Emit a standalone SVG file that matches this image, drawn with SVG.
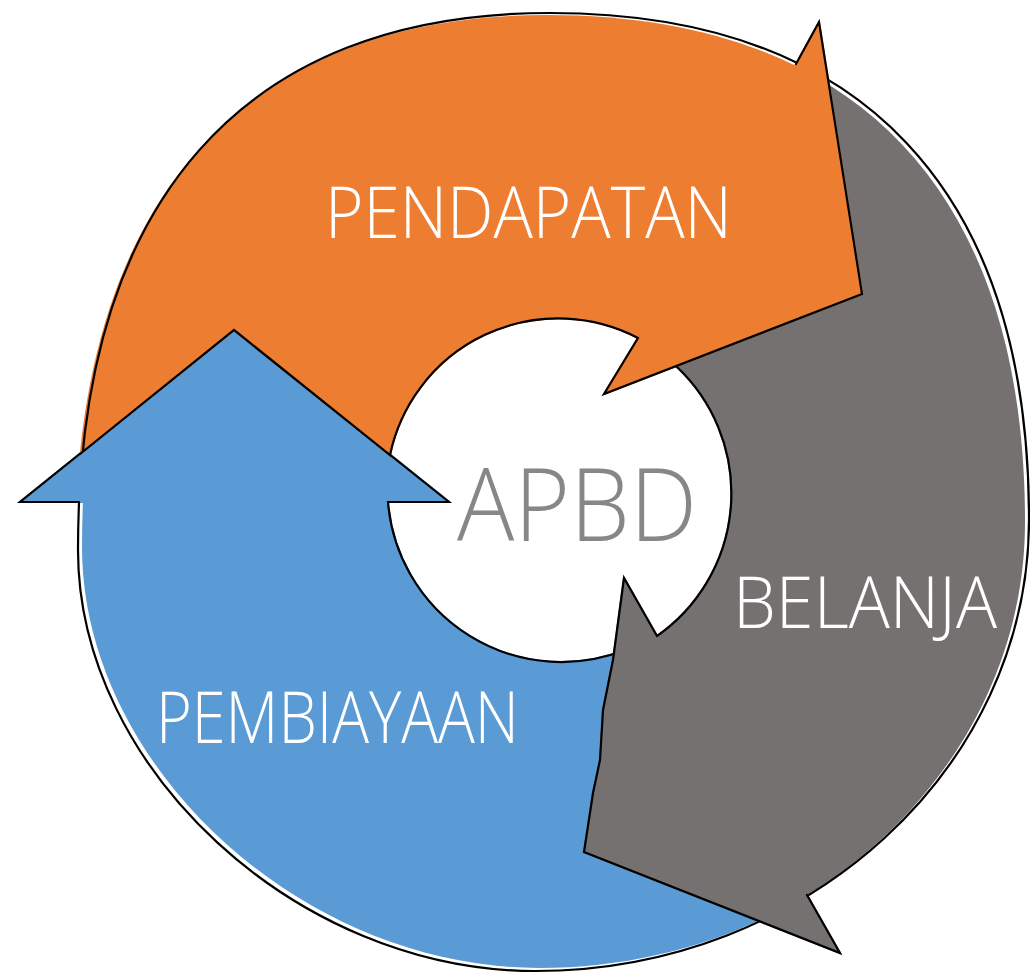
<svg xmlns="http://www.w3.org/2000/svg" width="1030" height="973" viewBox="0 0 1030 973">
<style>
.ol{fill:none;stroke:#000;stroke-width:2.2;stroke-linejoin:miter;stroke-miterlimit:10;stroke-linecap:round}
.blue{fill:#5B9BD5}
.gray{fill:#767171}
.orange{fill:#ED7D31}
.hb{stroke:#5B9BD5;stroke-width:2;stroke-linejoin:round}
.hg{stroke:#767171;stroke-width:2;stroke-linejoin:round}
.ho{stroke:#ED7D31;stroke-width:2;stroke-linejoin:round}
.lbl{font-family:"Open Sans","Liberation Sans",sans-serif;font-weight:300;fill:#ffffff;font-size:71px}
.center{font-family:"Open Sans","Liberation Sans",sans-serif;font-weight:300;fill:#878787;font-size:102px}
</style>
<defs>
<clipPath id="fBlue"><path transform="translate(4 -3)" d="M78,550 C78,201 243,13 550,13 C862,13 1029,190.4 1029,520 C1029,768 807,971 535,971 C297.4,971 78,768.9 78,550 Z"/></clipPath>
<clipPath id="fGray"><path transform="translate(-4 2)" d="M78,550 C78,201 243,13 550,13 C862,13 1029,190.4 1029,520 C1029,768 807,971 535,971 C297.4,971 78,768.9 78,550 Z"/></clipPath>
<clipPath id="fOrange"><path transform="translate(-3 2)" d="M78,550 C78,201 243,13 550,13 C862,13 1029,190.4 1029,520 C1029,768 807,971 535,971 C297.4,971 78,768.9 78,550 Z"/></clipPath>
<clipPath id="wBlue"><path d="M388,502 L-20,502 L-20,1100 L923,1100 L625,650 A174 174 0 0 1 388,502 Z"/></clipPath>
<clipPath id="wGray"><path d="M665,355 L815,90 L815,-40 L1100,-40 L1100,1100 L905,1066 L657,636 A174 174 0 0 0 677,367 Z"/></clipPath>
<clipPath id="wOrange"><path d="M638,338 A172 172 0 0 0 390,455 L234,330 L20,502 L-20,502 L-20,-60 L866,-60 Z"/></clipPath>
</defs>
<rect width="1030" height="973" fill="#ffffff"/>
<g id="node-pembiayaan">
<path class="blue hb" clip-path="url(#fBlue)" d="M388,502 L-20,502 L-20,1100 L923,1100 L625,650 A174 174 0 0 1 388,502 Z"/>
<path class="blue hb" d="M388,502 L449,502 L234,330 L20,502 L79,502 Z"/>
<path class="ol" clip-path="url(#wBlue)" d="M78,550 C78,201 243,13 550,13 C862,13 1029,190.4 1029,520 C1029,768 807,971 535,971 C297.4,971 78,768.9 78,550 Z"/>
<path class="ol" d="M79,502 L20,502 L234,330 L449,502 L388,502 A174 174 0 0 0 625,650"/>
<text class="lbl" x="156" y="743" textLength="363" lengthAdjust="spacingAndGlyphs">PEMBIAYAAN</text>
</g>
<g id="node-belanja">
<path class="gray hg" clip-path="url(#fGray)" d="M665,355 L815,90 L815,-40 L1100,-40 L1100,1100 L905,1066 L657,636 A174 174 0 0 0 677,367 Z"/>
<path class="gray hg" d="M807,895 L840,953 L584,852 L593,793 L600,760 L603,710 L613,660 L624,578 L657,636 Z"/>
<path class="ol" clip-path="url(#wGray)" d="M78,550 C78,201 243,13 550,13 C862,13 1029,190.4 1029,520 C1029,768 807,971 535,971 C297.4,971 78,768.9 78,550 Z"/>
<path class="ol" d="M807,895 L840,953 L584,852 L593,793 L600,760 L603,710 L613,660 L624,578 L657,636 A174 174 0 0 0 677,367 L665,355"/>
<text class="lbl" x="733" y="628" textLength="264" lengthAdjust="spacingAndGlyphs">BELANJA</text>
</g>
<g id="node-pendapatan">
<path class="orange ho" clip-path="url(#fOrange)" d="M638,338 A172 172 0 0 0 390,455 L234,330 L20,502 L-20,502 L-20,-60 L866,-60 Z"/>
<path class="orange ho" d="M796,64 L819,22 L862,294 L604,394 L638,338 Z"/>
<path class="ol" clip-path="url(#wOrange)" d="M78,550 C78,201 243,13 550,13 C862,13 1029,190.4 1029,520 C1029,768 807,971 535,971 C297.4,971 78,768.9 78,550 Z"/>
<path class="ol" d="M796,64 L819,22 L862,294 L604,394 L638,338 A172 172 0 0 0 390,455 L234,330 L80,454"/>
<text class="lbl" x="325" y="238" textLength="407" lengthAdjust="spacingAndGlyphs">PENDAPATAN</text>
</g>
<g id="node-apbd">
<text class="center" x="457" y="541" textLength="240" lengthAdjust="spacingAndGlyphs">APBD</text>
</g>
<g id="connectors"></g>
</svg>
